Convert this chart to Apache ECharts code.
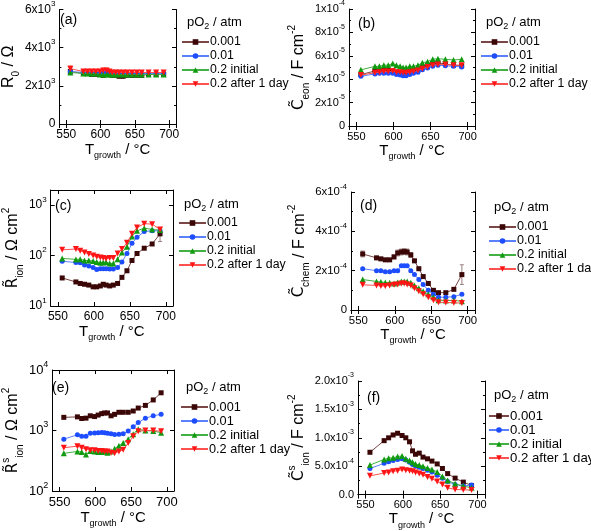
<!DOCTYPE html>
<html><head><meta charset="utf-8">
<script src="https://cdn.jsdelivr.net/npm/echarts@6/dist/echarts.min.js"></script>
<style>html,body{margin:0;padding:0;background:#fff}#c{width:591px;height:531px}</style>
</head><body><div id="c"></div>
<script>
// ---------- DATA ----------
const T = [556, 575, 581, 587, 593, 599, 604, 609, 613, 617, 622, 627, 633, 639, 646, 653, 660, 670, 681, 692];
const seriesNames = ['0.001', '0.01', '0.2 initial', '0.2 after 1 day'];

// (a) R0 / Ohm
const a_001 = [2750, 2650, 2650, 2600, 2600, 2650, 2550, 2600, 2600, 2550, 2550, 2500, 2500, 2550, 2550, 2550, 2550, 2600, 2600, 2600];
const a_01  = [2750, 2700, 2700, 2700, 2700, 2700, 2650, 2700, 2700, 2650, 2650, 2650, 2650, 2650, 2650, 2650, 2650, 2650, 2650, 2650];
const a_2i  = [2700, 2650, 2650, 2650, 2650, 2600, 2600, 2600, 2600, 2600, 2600, 2600, 2600, 2600, 2600, 2600, 2600, 2600, 2600, 2600];
const a_2d  = [2900, 2750, 2750, 2750, 2750, 2750, 2800, 2800, 2750, 2700, 2700, 2700, 2700, 2700, 2700, 2700, 2700, 2700, 2700, 2700];
const a_2d_err = [150, 100, 100, 100, 100, 100, 120, 120, 100, 80, 80, 80, 80, 80, 80, 80, 80, 80, 80, 80];

// (b) C_eon / F cm-2 (units of 1e-5)
const b_001 = [4.4, 4.7, 4.75, 4.75, 4.75, 4.7, 4.6, 4.55, 4.55, 4.6, 4.65, 4.7, 4.8, 5.0, 5.2, 5.35, 5.4, 5.3, 5.2, 5.15];
const b_01  = [4.25, 4.45, 4.5, 4.5, 4.5, 4.5, 4.4, 4.35, 4.3, 4.3, 4.4, 4.5, 4.6, 4.8, 4.95, 5.1, 5.2, 5.15, 5.1, 5.05];
const b_2i  = [4.8, 5.1, 5.1, 5.2, 5.2, 5.35, 5.2, 5.1, 5.0, 5.0, 5.1, 5.1, 5.2, 5.4, 5.5, 5.7, 5.75, 5.7, 5.65, 5.7];
const b_2d  = [4.35, 4.55, 4.6, 4.65, 4.65, 4.7, 4.6, 4.6, 4.55, 4.55, 4.6, 4.65, 4.75, 4.9, 5.05, 5.2, 5.25, 5.25, 5.2, 5.2];

// (c) R_ion / Ohm cm2
const c_001 = [36, 30, 28, 27, 26, 24, 24, 25, 27, 26, 25, 26, 28, 37, 50, 80, 110, 140, 170, 270];
const c_01  = [77, 73, 72, 65, 62, 58, 53, 55, 55, 55, 54, 54, 58, 75, 110, 175, 230, 300, 310, 310];
const c_2i  = [88, 84, 85, 80, 80, 78, 75, 72, 73, 74, 70, 70, 85, 115, 150, 240, 310, 350, 330, 320];
const c_2d  = [130, 135, 125, 115, 108, 100, 95, 92, 90, 87, 90, 90, 110, 135, 180, 270, 360, 430, 420, 330];
const c_001_err = [0, 0, 0, 0, 0, 0, 0, 0, 0, 0, 0, 0, 0, 0, 0, 0, 0, 0, 0, 80];

// (d) C_chem / F cm-2 (units of 1e-4)
const d_001 = [2.85, 2.65, 2.6, 2.55, 2.55, 2.7, 2.9, 2.95, 2.97, 2.95, 2.8, 2.5, 2.1, 1.7, 1.35, 1.0, 0.88, 0.88, 1.05, 1.8];
const d_01  = [2.1, 2.0, 2.0, 1.95, 1.95, 2.0, 2.0, 2.25, 2.25, 2.25, 2.0, 1.8, 1.55, 1.3, 1.0, 0.8, 0.65, 0.65, 0.68, 0.8];
const d_2i  = [1.55, 1.45, 1.42, 1.4, 1.38, 1.35, 1.4, 1.45, 1.45, 1.45, 1.38, 1.25, 1.1, 0.95, 0.8, 0.65, 0.5, 0.48, 0.48, 0.45];
const d_2d  = [1.28, 1.25, 1.22, 1.22, 1.25, 1.28, 1.3, 1.35, 1.35, 1.3, 1.25, 1.1, 0.95, 0.8, 0.65, 0.5, 0.4, 0.38, 0.37, 0.35];
const d_001_err = [0.15, 0.08, 0.08, 0.08, 0.08, 0.1, 0.15, 0.15, 0.15, 0.15, 0.12, 0.08, 0.06, 0.05, 0.04, 0.04, 0.04, 0.04, 0.05, 0.5];

// (e) R^s_ion / Ohm cm2
const e_001 = [1650, 1680, 1580, 1600, 1750, 1700, 1800, 1900, 1950, 1950, 1750, 1850, 2000, 2000, 2000, 2100, 2350, 2600, 3200, 4200];
const e_01  = [720, 850, 800, 800, 900, 910, 920, 930, 920, 900, 880, 860, 870, 880, 980, 1150, 1350, 1600, 1750, 1850];
const e_2i  = [420, 450, 440, 400, 460, 450, 440, 440, 450, 430, 450, 500, 560, 620, 720, 870, 1050, 1000, 980, 920];
const e_2d  = [520, 550, 520, 490, 470, 470, 460, 460, 450, 450, 430, 420, 450, 480, 620, 800, 970, 1000, 1000, 970];

// (f) C^s_ion / F cm-2 (units of 1e-4)
const f_001 = [7.45, 9.5, 10.0, 10.5, 10.8, 10.4, 10.0, 9.3, 7.7, 7.1, 7.3, 6.6, 6.3, 5.9, 5.4, 4.6, 3.7, 2.9, 2.2, 1.6];
const f_01  = [4.6, 5.5, 5.8, 6.0, 6.2, 6.3, 6.1, 5.7, 5.3, 5.0, 4.8, 4.6, 4.3, 4.0, 3.4, 2.9, 2.3, 1.8, 1.5, 1.7];
const f_2i  = [5.2, 6.2, 6.4, 6.5, 6.7, 6.8, 6.3, 6.0, 5.7, 5.4, 5.2, 5.0, 4.7, 4.4, 4.0, 3.2, 2.5, 1.9, 1.5, 1.2];
const f_2d  = [3.3, 3.8, 3.9, 4.1, 4.2, 4.4, 4.3, 4.2, 4.1, 3.9, 3.7, 3.5, 3.1, 2.8, 2.3, 1.8, 1.2, 0.9, 0.85, 0.8];
// ---------- END DATA ----------

const FONT = 'Liberation Sans, Arial, sans-serif';
const styles = [
  {marker: '#3a0606', line: '#7a4646', err: '#9a8080', symbol: 'rect', size: 5},
  {marker: '#1d4dff', line: '#5a80ff', err: '#8aa0ff', symbol: 'circle', size: 5},
  {marker: '#0f9a0f', line: '#43b043', err: '#80c080', symbol: 'triangle', size: 6},
  {marker: '#ff1515', line: '#ff5050', err: '#ff9090', symbol: 'path://M0,0 L10,0 L5,9 Z', size: 6}
];

function makeRich(fs) {
  return {
    n: {fontSize: fs, fontFamily: FONT, color: '#000', lineHeight: fs + 7},
    s: {fontSize: Math.round(fs * 0.68), fontFamily: FONT, color: '#000', verticalAlign: 'top', lineHeight: 10},
    N: {fontSize: 16, fontFamily: FONT, color: '#000', lineHeight: 24},
    D: {fontSize: 15, fontFamily: 'DejaVu Sans', color: '#000', lineHeight: 24},
    S: {fontSize: 10, fontFamily: FONT, color: '#000', verticalAlign: 'top', lineHeight: 11},
    B: {fontSize: 10, fontFamily: FONT, color: '#000', verticalAlign: 'bottom', lineHeight: 11},
    X: {fontSize: 15, fontFamily: FONT, color: '#000', lineHeight: 22},
    XB: {fontSize: 9, fontFamily: FONT, color: '#000', verticalAlign: 'bottom', lineHeight: 9}
  };
}
function sci(mant, exp) { return '{n|' + mant + 'x10}{s|' + exp + '}'; }

const panels = [
  {id: 'a', left: 49, top: 8, w: 127, h: 116, fs: 12, type: 'value', min: 0, max: 6000, interval: 2000,
   fmt: v => v === 0 ? '{n|0}' : sci(Math.round(v / 1000), '3'),
   name: '{N|R}{B|0}{N| / Ω}', nameGap: 25,
   data: [a_001, a_01, a_2i, a_2d], errs: [null, null, null, a_2d_err], scale: 1, lg: [181, 25, 42, 27, 12.3], lab: [11, 5]},
  {id: 'b', left: 349, top: 8, w: 126, h: 118, fs: 11, type: 'value', min: 0, max: 1e-4, interval: 2e-5,
   fmt: v => { const m = Math.round(v / 1e-5); if (m === 0) return '{n|0}'; if (m === 10) return sci(1, '-4'); return sci(m, '-5'); },
   name: '{D|C\u0303}{B|eon}{N| / F cm}{S|-2}', nameGap: 34,
   data: [b_001, b_01, b_2i, b_2d], errs: [], scale: 1e-5, lg: [480, 25, 42, 27, 12.3], lab: [9, 9]},
  {id: 'c', left: 48, top: 190, w: 125, h: 116, fs: 12, type: 'log', min: 10, max: 2000,
   fmt: v => '{n|10}{s|' + Math.round(Math.log10(v)) + '}',
   name: '{D|R\u0303}{B|ion}{N| / Ω cm}{S|2}', nameGap: 21,
   data: [c_001, c_01, c_2i, c_2d], errs: [c_001_err], scale: 1, lg: [178, 207, 223, 27, 12.3], lab: [7, 9]},
  {id: 'd', left: 351, top: 192, w: 124, h: 118, fs: 11.4, type: 'value', min: 0, max: 6e-4, interval: 2e-4,
   fmt: v => { const m = Math.round(v / 1e-4); return m === 0 ? '{n|0}' : sci(m, '-4'); },
   name: '{D|C\u0303}{B|chem}{N| / F cm}{S|-2}', nameGap: 38,
   data: [d_001, d_01, d_2i, d_2d], errs: [d_001_err], scale: 1e-4, lg: [488, 210, 227, 27, 12.6], lab: [9, 7]},
  {id: 'e', left: 45, top: 370, w: 129, h: 121, fs: 13, type: 'log', min: 100, max: 10000,
   fmt: v => '{n|10}{s|' + Math.round(Math.log10(v)) + '}',
   name: '{D|R\u0303}{S|s}{B|ion}{N| / Ω cm}{S|2}', nameGap: 20,
   data: [e_001, e_01, e_2i, e_2d], errs: [], scale: 1, lg: [180, 390, 407, 27, 12.7], lab: [7, 11]},
  {id: 'f', left: 358, top: 381, w: 127, h: 116, fs: 11, type: 'value', min: 0, max: 2e-3, interval: 5e-4,
   fmt: v => { const m = Math.round(v / 1e-4); if (m === 0) return '{n|0.0}'; if (m === 5) return sci('5.0', '-4'); return sci((m / 10).toFixed(1), '-3'); },
   name: '{D|C\u0303}{S|s}{B|ion}{N| / F cm}{S|-2}', nameGap: 43,
   data: [f_001, f_01, f_2i, f_2d], errs: [], scale: 1e-4, lg: [488, 398, 416, 20, 13.2], lab: [9, 10]}
];

const grid = [], xAxis = [], yAxis = [], series = [], legend = [], graphic = [];
const axisLine = {show: true, lineStyle: {color: '#000', width: 1}};
panels.forEach((p, i) => {
  const rich = makeRich(p.fs);
  grid.push({left: p.left, top: p.top, width: p.w, height: p.h, containLabel: false});
  const xBase = {type: 'value', gridIndex: i, min: 540, max: 710, splitNumber: 3,
    axisLine, splitLine: {show: false}, axisTick: {inside: true, length: 4, lineStyle: {color: '#000'}}};
  xAxis.push(Object.assign({}, xBase, {position: 'bottom',
    axisLabel: {fontSize: p.fs, fontFamily: FONT, color: '#000', margin: 5, showMinLabel: false, showMaxLabel: false},
    name: '{X|T}{XB|growth}{X| / °C}', nameLocation: 'middle', nameGap: 12,
    nameTextStyle: {rich: rich}}));
  xAxis.push(Object.assign({}, xBase, {position: 'top', axisLabel: {show: false}}));
  const yBase = {type: p.type, gridIndex: i, min: p.min, max: p.max,
    axisLine, splitLine: {show: false},
    axisTick: {inside: true, length: 4, lineStyle: {color: '#000'}},
    minorTick: {show: p.type === 'value', splitNumber: 2, length: 2, lineStyle: {color: '#000'}}};
  if (p.interval) yBase.interval = p.interval;
  if (p.type === 'log') yBase.logBase = 10;
  yAxis.push(Object.assign({}, yBase, {position: 'left',
    axisLabel: {formatter: p.fmt, rich: rich, margin: 4, showMaxLabel: p.type !== 'log' || p.max === 10000},
    name: p.name, nameLocation: 'middle', nameGap: p.nameGap, nameRotate: 90,
    nameTextStyle: {rich: rich}}));
  yAxis.push(Object.assign({}, yBase, {position: 'right', axisLabel: {show: false}}));
  p.data.forEach((arr, k) => {
    const st = styles[k];
    const err = p.errs[k];
    if (err) {
      series.push({type: 'custom', name: seriesNames[k] + ' err', xAxisIndex: 2 * i, yAxisIndex: 2 * i,
        data: T.map((t, j) => [t, (arr[j] - err[j]) * p.scale, (arr[j] + err[j]) * p.scale]).filter((d, j) => err[j] > 0),
        renderItem: (params, api) => {
          const lo = api.coord([api.value(0), api.value(1)]);
          const hi = api.coord([api.value(0), api.value(2)]);
          const c = {stroke: st.err, lineWidth: 1};
          return {type: 'group', children: [
            {type: 'line', shape: {x1: lo[0], y1: lo[1], x2: hi[0], y2: hi[1]}, style: c},
            {type: 'line', shape: {x1: lo[0] - 2, y1: lo[1], x2: lo[0] + 2, y2: lo[1]}, style: c},
            {type: 'line', shape: {x1: hi[0] - 2, y1: hi[1], x2: hi[0] + 2, y2: hi[1]}, style: c}]};
        },
        encode: {x: 0, y: [1, 2]}, z: 1, silent: true, animation: false});
    }
    series.push({type: 'line', name: seriesNames[k], xAxisIndex: 2 * i, yAxisIndex: 2 * i,
      data: T.map((t, j) => [t, arr[j] * p.scale]),
      symbol: st.symbol, symbolSize: st.size,
      itemStyle: {color: st.marker},
      lineStyle: {color: st.line, width: 1},
      z: 2 + k, animation: false});
  });
  const [lx, ty, iy, iw, lfs] = p.lg;
  legend.push({orient: 'vertical', left: lx, top: iy - 7, padding: 0, itemWidth: iw, itemHeight: 7, itemGap: 0,
    data: seriesNames, textStyle: {fontSize: lfs, fontFamily: FONT, color: '#000', lineHeight: 14, padding: [0, 0, 0, -4]},
    selectedMode: false});
  graphic.push({type: 'text', left: lx + 6, top: ty - 9,
    style: {text: '{n|pO}{b|2}{n| / atm}', rich: {
      n: {fontSize: 13, fontFamily: FONT, fill: '#000', lineHeight: 18},
      b: {fontSize: 9, fontFamily: FONT, fill: '#000', verticalAlign: 'bottom', lineHeight: 9}}}});
  graphic.push({type: 'text', left: p.left + p.lab[0], top: p.top + p.lab[1],
    style: {text: '(' + p.id + ')', fontSize: 14, fontFamily: FONT, fill: '#000'}});
});

const chart = echarts.init(document.getElementById('c'), null, {renderer: 'canvas'});
chart.setOption({animation: false, backgroundColor: '#fff', grid, xAxis, yAxis, series, legend, graphic});
</script>
</body></html>
